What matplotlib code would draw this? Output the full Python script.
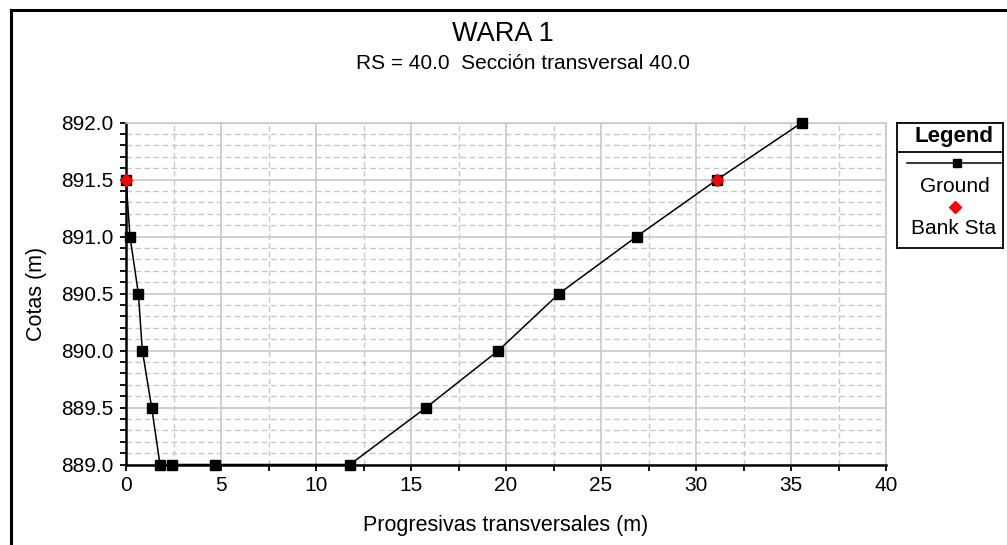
import numpy as np
import matplotlib
matplotlib.use('Agg')
from matplotlib import pyplot as plt
from matplotlib.ticker import MultipleLocator, FormatStrFormatter
from matplotlib.lines import Line2D

plt.rcParams['font.family'] = ['Liberation Sans', 'DejaVu Sans']

# Datos del perfil transversal
ground_x = [0.0, 0.21, 0.65, 0.86, 1.35, 1.79, 2.42, 4.68, 11.79, 15.8, 19.6, 22.8, 26.88, 31.12, 35.58]
ground_y = [891.5, 891.0, 890.5, 890.0, 889.5, 889.0, 889.0, 889.0, 889.0, 889.5, 890.0, 890.5, 891.0, 891.5, 892.0]
bank_x = [0.0, 31.12]
bank_y = [891.5, 891.5]

title = 'WARA 1'
subtitle = 'RS = 40.0  Sección transversal 40.0'
xlabel = 'Progresivas transversales (m)'
ylabel = 'Cotas (m)'

W, H = 1007, 545
fig = plt.figure(figsize=(W / 100, H / 100), dpi=100)

# borde de la ventana (solo arriba e izquierda visibles)
fig.add_artist(Line2D([11 / W, 11 / W], [0, 1 - 10 / H], color='black', lw=2.2))
fig.add_artist(Line2D([11 / W, 1], [1 - 10 / H, 1 - 10 / H], color='black', lw=2.2))

ax = fig.add_axes([126 / W, 1 - 464.5 / H, (886 - 126) / W, (464.5 - 122.5) / H])
ax.set_xlim(0, 40)
ax.set_ylim(889.0, 892.0)

ax.xaxis.set_major_locator(MultipleLocator(5))
ax.xaxis.set_minor_locator(MultipleLocator(2.5))
ax.yaxis.set_major_locator(MultipleLocator(0.5))
ax.yaxis.set_minor_locator(MultipleLocator(0.1))
ax.yaxis.set_major_formatter(FormatStrFormatter('%.1f'))

ax.grid(which='major', color='#c8c8c8', lw=1.2, ls='-')
ax.grid(which='minor', color='#c8c8c8', lw=1.0, ls=(0, (4, 2.5)))
ax.set_axisbelow(True)

for s in ['top', 'right']:
    ax.spines[s].set_color('#c8c8c8')
    ax.spines[s].set_linewidth(1.2)
for s in ['left', 'bottom']:
    ax.spines[s].set_color('black')
    ax.spines[s].set_linewidth(1.8)

ax.tick_params(which='both', direction='out', length=4, width=1.3, color='black')
ax.tick_params(axis='both', which='major', labelsize=15)
ax.tick_params(axis='y', which='major', pad=5)
ax.tick_params(axis='x', which='major', pad=4)

ax.plot(ground_x, ground_y, color='black', lw=1.1, marker='s', markersize=6.5,
        clip_on=False, zorder=3)
ax.plot(bank_x, bank_y, ls='none', color='red', marker='D', markersize=6.5,
        clip_on=False, zorder=4)

fig.text(503 / W, 1 - 34 / H, title, ha='center', va='center', fontsize=19.5)
fig.text(523 / W, 1 - 63 / H, subtitle, ha='center', va='center', fontsize=15)
ax.set_xlabel(xlabel, fontsize=15.5, labelpad=15)
ax.set_ylabel(ylabel, fontsize=15.5, labelpad=10)

# leyenda
lg = fig.add_axes([897 / W, 1 - 248 / H, (1003 - 897) / W, (248 - 123) / H])
lg.set_xlim(897, 1003)
lg.set_ylim(248, 123)
lg.set_xticks([])
lg.set_yticks([])
for s in lg.spines.values():
    s.set_linewidth(1.3)
    s.set_color('black')
lg.axhline(152, color='black', lw=1.3)
lg.text(954, 136, 'Legend', ha='center', va='center', fontsize=16, fontweight='bold')
lg.plot([907, 1001], [163, 163], color='black', lw=1.1)
lg.plot([957], [163], color='black', marker='s', markersize=6)
lg.text(955, 186, 'Ground', ha='center', va='center', fontsize=15)
lg.plot([955], [207], color='red', marker='D', markersize=6.5)
lg.text(954, 228, 'Bank Sta', ha='center', va='center', fontsize=15)

plt.savefig('out.png', dpi=100)
